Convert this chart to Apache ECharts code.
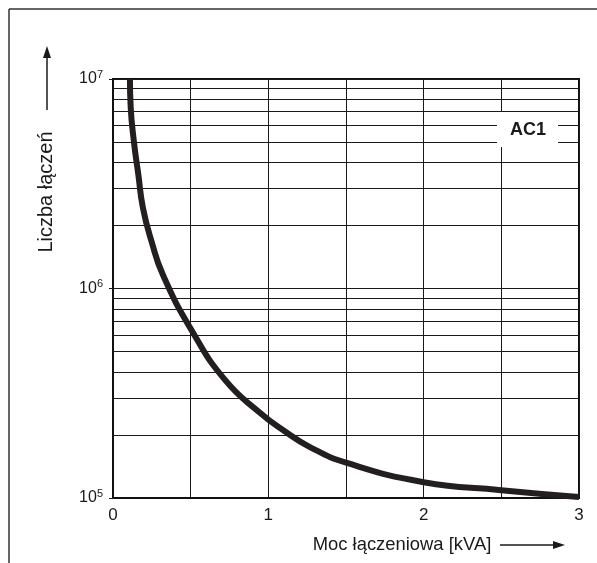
<!DOCTYPE html>
<html>
<head>
<meta charset="utf-8">
<script src="https://cdn.jsdelivr.net/npm/echarts@6/dist/echarts.min.js"></script>
<style>
	html, body { margin: 0; padding: 0; background: #fff; }
	#chart { width: 597px; height: 563px; }
</style>
</head>
<body>
<div id="chart"></div>
<script>
// dane wykresu
const kva = [0.109, 0.114, 0.135, 0.163, 0.193, 0.249, 0.322, 0.507, 0.721, 0.946, 1.094, 1.268, 1.506, 2.0, 2.5, 3.0];
const cycles = [1.0e7, 7.3e6, 5.0e6, 3.5e6, 2.42e6, 1.67e6, 1.16e6, 6.3e5, 3.66e5, 2.55e5, 2.11e5, 1.75e5, 1.47e5, 1.19e5, 1.09e5, 1.01e5];
// linie siatki pomiedzy dekadami
const minorGrid = [2e5, 3e5, 4e5, 5e5, 6e5, 7e5, 8e5, 9e5, 2e6, 3e6, 4e6, 5e6, 6e6, 7e6, 8e6, 9e6];
const xTicks = [0, 1, 2, 3];

const font = "'Liberation Sans', Arial, sans-serif";
const ink = "#1a1a1a";

const chart = echarts.init(document.getElementById("chart"));

const option = {
	animation: false,
	backgroundColor: "#fff",
	grid: {
		left: 113,
		top: 79,
		right: 18,
		bottom: 65,
		show: true,
		borderColor: "#111",
		borderWidth: 2,
	},
	xAxis: {
		type: "value",
		min: 0,
		max: 3,
		interval: 0.5,
		axisLine: { show: true, lineStyle: { color: "#111", width: 2 } },
		axisTick: { show: false },
		splitLine: { show: true, lineStyle: { color: ink, width: 1 } },
		axisLabel: {
			color: ink,
			fontFamily: font,
			fontSize: 17,
			margin: 9,
			formatter: (v) => (xTicks.includes(v) ? String(v) : ""),
		},
	},
	yAxis: {
		type: "log",
		logBase: 10,
		min: 1e5,
		max: 1e7,
		interval: 1,
		axisLine: { show: true, lineStyle: { color: "#111", width: 1.5 } },
		axisTick: { show: true, length: 4, lineStyle: { color: ink } },
		splitLine: { show: true, lineStyle: { color: ink, width: 1 } },
		axisLabel: {
			margin: 10,
			formatter: (v) => "{b|10}{s|" + Math.round(Math.log10(v)) + "}",
			rich: {
				b: { color: ink, fontFamily: font, fontSize: 16 },
				s: { color: ink, fontFamily: font, fontSize: 11, padding: [0, 0, 9, 0] },
			},
		},
	},
	graphic: [
		// ramka zewnetrzna
		{ type: "line", shape: { x1: 9, y1: 9, x2: 597, y2: 9 }, style: { stroke: "#333", lineWidth: 1.5 } },
		{ type: "line", shape: { x1: 9, y1: 9, x2: 9, y2: 563 }, style: { stroke: "#333", lineWidth: 1.5 } },
		// nazwa osi Y ze strzalka
		{
			type: "text",
			x: 46,
			y: 192,
			rotation: Math.PI / 2,
			style: { text: "Liczba łączeń", font: "20px " + font, fill: ink, align: "center", verticalAlign: "middle" },
		},
		{ type: "line", shape: { x1: 47, y1: 110, x2: 47, y2: 55 }, style: { stroke: ink, lineWidth: 1.5 } },
		{ type: "polygon", shape: { points: [[47, 46], [43, 58], [51, 58]] }, style: { fill: ink } },
		// nazwa osi X ze strzalka
		{
			type: "text",
			x: 402,
			y: 545,
			style: { text: "Moc łączeniowa [kVA]", font: "18.4px " + font, fill: ink, align: "center", verticalAlign: "middle" },
		},
		{ type: "line", shape: { x1: 500, y1: 545, x2: 555, y2: 545 }, style: { stroke: ink, lineWidth: 1.5 } },
		{ type: "polygon", shape: { points: [[565, 545], [553, 541], [553, 549]] }, style: { fill: ink } },
		// etykieta AC1
		{ type: "rect", z: 100, shape: { x: 497, y: 112, width: 61, height: 35 }, style: { fill: "#fff" } },
		{
			type: "text",
			z: 101,
			x: 528,
			y: 130,
			style: { text: "AC1", font: "bold 18px " + font, fill: ink, align: "center", verticalAlign: "middle" },
		},
	],
	series: [
		{
			// pomocnicza seria: poziome linie siatki
			type: "line",
			z: 1,
			data: [],
			silent: true,
			markLine: {
				silent: true,
				symbol: ["none", "none"],
				label: { show: false },
				lineStyle: { color: ink, width: 1, type: "solid" },
				data: minorGrid.map((v) => ({ yAxis: v })),
			},
		},
		{
			name: "AC1",
			type: "line",
			z: 5,
			data: kva.map((x, i) => [x, cycles[i]]),
			smooth: 0.5,
			showSymbol: false,
			lineStyle: { color: "#231f20", width: 6 },
		},
	],
};

chart.setOption(option);
</script>
</body>
</html>
